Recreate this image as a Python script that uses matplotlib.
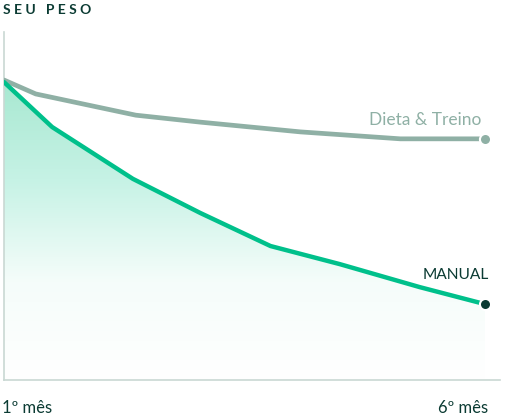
import numpy as np
import matplotlib
matplotlib.use("Agg")
import matplotlib.pyplot as plt
from matplotlib.patches import Polygon
from matplotlib.colors import LinearSegmentedColormap

# Data (x in months, y in arbitrary weight units)
dieta_x = [1.0, 1.33, 2.37, 3.04, 4.08, 5.12, 6.0]
dieta_y = [86.2, 82.2, 76.1, 74.1, 71.3, 69.3, 69.3]
manual_x = [1.0, 1.5, 2.34, 3.04, 3.77, 4.49, 5.32, 6.0]
manual_y = [85.6, 72.7, 57.8, 48.0, 38.5, 33.3, 26.7, 21.8]
tick_labels = ["1º mês", "6º mês"]
series_names = ["Dieta & Treino", "MANUAL"]
title = "SEU PESO"

W, H = 510, 415
fig = plt.figure(figsize=(W / 100, H / 100), dpi=100)
left, right, top, bottom = 4, 500, 32, 380
ax = fig.add_axes([left / W, 1 - bottom / H, (right - left) / W, (bottom - top) / H])
ax.set_xlim(1, 1 + (right - left) / 96.2)
ax.set_ylim(0, 100)

spine_col = "#c9d8d3"
for s in ["top", "right"]:
    ax.spines[s].set_visible(False)
for s in ["left", "bottom"]:
    ax.spines[s].set_color(spine_col)
    ax.spines[s].set_linewidth(1.2)
ax.set_xticks([])
ax.set_yticks([])

teal = "#00c08b"
gray = "#8fb0a5"
dark = "#0b3b33"

# gradient fill under manual line
cmap = LinearSegmentedColormap.from_list(
    "g", [(1, 1, 1), (0.96, 0.99, 0.98), (0.78, 0.95, 0.90), (0.66, 0.91, 0.82)])
grad = np.linspace(0, 1, 256).reshape(-1, 1)
im = ax.imshow(grad, cmap=cmap, aspect="auto", origin="lower",
               extent=[1, 6, 0, max(manual_y)], zorder=1)
verts = list(zip(manual_x, manual_y)) + [(manual_x[-1], 0), (manual_x[0], 0)]
poly = Polygon(verts, closed=True, facecolor="none", edgecolor="none")
ax.add_patch(poly)
im.set_clip_path(poly)

ax.plot(dieta_x, dieta_y, color=gray, lw=3.4, solid_capstyle="round",
        solid_joinstyle="round", zorder=3)
ax.plot(manual_x, manual_y, color=teal, lw=3.2, solid_capstyle="round",
        solid_joinstyle="round", zorder=4)
ax.plot(dieta_x[-1], dieta_y[-1], "o", color=gray, ms=8, mec="white", mew=1.5, zorder=5, clip_on=False)
ax.plot(manual_x[-1], manual_y[-1], "o", color=dark, ms=8, mec="white", mew=1.5, zorder=5, clip_on=False)

font = "Lato"
ax.text(dieta_x[-1] - 0.04, dieta_y[-1] + 3.0, series_names[0], color=gray,
        fontsize=12.5, fontfamily=font, ha="right", va="bottom")
ax.text(manual_x[-1] + 0.04, manual_y[-1] + 6.3, series_names[1], color=dark,
        fontsize=11.2, fontfamily=font, ha="right", va="bottom")

fig.text(3 / W, 1 - 10 / H, " ".join(title.replace(" ", "\u00a0")).replace("\u00a0", " "),
         color=dark, fontsize=10, fontweight="bold", fontfamily=[font, "DejaVu Sans"],
         ha="left", va="center")
fig.text(2 / W, 1 - 408 / H, tick_labels[0], color=dark, fontsize=12, fontfamily=font,
         ha="left", va="center")
fig.text(488 / W, 1 - 408 / H, tick_labels[1], color=dark, fontsize=12, fontfamily=font,
         ha="right", va="center")

fig.savefig("out.png", dpi=100)
